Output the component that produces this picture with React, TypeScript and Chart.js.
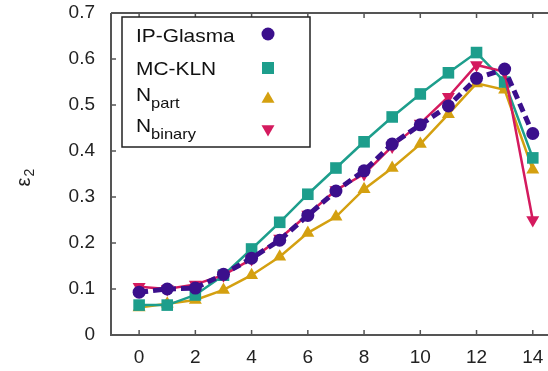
import React, { useEffect, useRef } from "react";
import { Chart, registerables } from "chart.js";

Chart.register(...registerables);

const xValues = [0, 1, 2, 3, 4, 5, 6, 7, 8, 9, 10, 11, 12, 13, 14];
const ipGlasma = [0.093, 0.1, 0.102, 0.132, 0.167, 0.206, 0.26, 0.313, 0.357, 0.415, 0.457, 0.498, 0.558, 0.578, 0.438];
const mcKln = [0.065, 0.065, 0.087, 0.13, 0.187, 0.245, 0.306, 0.363, 0.42, 0.474, 0.524, 0.57, 0.614, 0.55, 0.385];
const nPart = [0.06, 0.068, 0.076, 0.098, 0.13, 0.17, 0.222, 0.257, 0.317, 0.363, 0.415, 0.48, 0.547, 0.533, 0.359];
const nBinary = [0.105, 0.1, 0.11, 0.13, 0.165, 0.21, 0.262, 0.315, 0.35, 0.41, 0.46, 0.518, 0.587, 0.572, 0.25];
const xTicks = [0, 2, 4, 6, 8, 10, 12, 14];
const yTicks = [0, 0.1, 0.2, 0.3, 0.4, 0.5, 0.6, 0.7];

const PURPLE = "#3b0f8c";
const TEAL = "#1d9e8c";
const GOLD = "#d4a010";
const CRIMSON = "#d41a5e";
const AXIS = "#555555";
const FONT = "'Liberation Sans', Arial, sans-serif";

function stretchedText(ctx: CanvasRenderingContext2D, text: string, x: number, y: number, size: number, sx = 1.1) {
  ctx.save();
  ctx.translate(x, y);
  ctx.scale(sx, 1);
  ctx.font = `${size}px ${FONT}`;
  ctx.fillText(text, 0, 0);
  const w = ctx.measureText(text).width * sx;
  ctx.restore();
  return w;
}

function marker(ctx: CanvasRenderingContext2D, kind: string, x: number, y: number, color: string) {
  ctx.save();
  ctx.fillStyle = color;
  ctx.beginPath();
  const r = 7.5;
  const s = Math.sin((2 * Math.PI) / 3);
  if (kind === "circle") {
    ctx.arc(x, y, 6.5, 0, Math.PI * 2);
  } else if (kind === "rect") {
    ctx.rect(x - 6, y - 6, 12, 12);
  } else if (kind === "up") {
    ctx.moveTo(x, y - r);
    ctx.lineTo(x + r * s, y + r / 2);
    ctx.lineTo(x - r * s, y + r / 2);
  } else {
    ctx.moveTo(x, y + r);
    ctx.lineTo(x + r * s, y - r / 2);
    ctx.lineTo(x - r * s, y - r / 2);
  }
  ctx.closePath();
  ctx.fill();
  ctx.restore();
}

const framePlugin = {
  id: "frame",
  beforeDatasetsDraw(chart: any) {
    const { ctx, chartArea, scales } = chart;
    const { left, top, bottom } = chartArea;
    const right = chart.width;
    ctx.save();
    ctx.strokeStyle = AXIS;
    ctx.lineWidth = 2;
    ctx.beginPath();
    ctx.moveTo(left, top);
    ctx.lineTo(right, top);
    ctx.moveTo(left, top);
    ctx.lineTo(left, bottom);
    ctx.lineTo(right, bottom);
    ctx.stroke();
    ctx.lineWidth = 1.5;
    ctx.beginPath();
    for (const v of yTicks) {
      const y = scales.y.getPixelForValue(v);
      ctx.moveTo(left, y);
      ctx.lineTo(left + 5, y);
    }
    for (const v of xTicks) {
      const x = scales.x.getPixelForValue(v);
      ctx.moveTo(x, bottom);
      ctx.lineTo(x, bottom - 5);
      ctx.moveTo(x, top);
      ctx.lineTo(x, top + 5);
    }
    ctx.stroke();
    ctx.restore();
  },
  afterDraw(chart: any) {
    const { ctx } = chart;
    ctx.save();
    // y-axis title: epsilon_2 rotated
    ctx.translate(30, 178);
    ctx.rotate(-Math.PI / 2);
    ctx.fillStyle = "#222";
    ctx.textBaseline = "alphabetic";
    ctx.textAlign = "left";
    ctx.font = `20px ${FONT}`;
    const ew = ctx.measureText("ε").width;
    ctx.fillText("ε", -ew / 2 - 4, 0);
    ctx.font = `14px ${FONT}`;
    ctx.fillText("2", ew / 2 - 3, 4);
    ctx.restore();

    // legend box
    ctx.save();
    ctx.fillStyle = "#ffffff";
    ctx.fillRect(122, 17, 188, 130);
    ctx.strokeStyle = "#222";
    ctx.lineWidth = 1.5;
    ctx.strokeRect(122, 17, 188, 130);
    ctx.fillStyle = "#111";
    ctx.textBaseline = "alphabetic";
    ctx.textAlign = "left";
    stretchedText(ctx, "IP-Glasma", 136, 42, 19);
    stretchedText(ctx, "MC-KLN", 136, 75, 19);
    let w = stretchedText(ctx, "N", 136, 101, 19);
    stretchedText(ctx, "part", 136 + w, 108, 15);
    w = stretchedText(ctx, "N", 136, 132, 19);
    stretchedText(ctx, "binary", 136 + w, 139, 15);
    marker(ctx, "circle", 268, 34, PURPLE);
    marker(ctx, "rect", 268, 68, TEAL);
    marker(ctx, "up", 268, 99, GOLD);
    marker(ctx, "down", 268, 129, CRIMSON);
    ctx.restore();
  },
};

function pts(vals: number[]) {
  return xValues.map((x, i) => ({ x, y: vals[i] }));
}

export default function App() {
  const ref = useRef<HTMLCanvasElement>(null);
  useEffect(() => {
    if (!ref.current) return;
    const chart = new Chart(ref.current, {
      type: "line",
      data: {
        datasets: [
          {
            label: "IP-Glasma",
            data: pts(ipGlasma),
            borderColor: PURPLE,
            backgroundColor: PURPLE,
            borderWidth: 5,
            borderDash: [9, 5],
            pointStyle: "circle",
            pointRadius: 6.5,
            pointBorderWidth: 0,
            tension: 0,
            clip: false,
          },
          {
            label: "N_binary",
            data: pts(nBinary),
            borderColor: CRIMSON,
            backgroundColor: CRIMSON,
            borderWidth: 2.5,
            pointStyle: "triangle",
            rotation: 180,
            pointRadius: 7.5,
            pointBorderWidth: 0,
            tension: 0,
            clip: false,
          },
          {
            label: "MC-KLN",
            data: pts(mcKln),
            borderColor: TEAL,
            backgroundColor: TEAL,
            borderWidth: 2.5,
            pointStyle: "rect",
            pointRadius: 8.2,
            pointBorderWidth: 0,
            tension: 0,
            clip: false,
          },
          {
            label: "N_part",
            data: pts(nPart),
            borderColor: GOLD,
            backgroundColor: GOLD,
            borderWidth: 2.5,
            pointStyle: "triangle",
            pointRadius: 7.5,
            pointBorderWidth: 0,
            tension: 0,
            clip: false,
          },
        ],
      },
      options: {
        animation: false,
        responsive: false,
        events: [],
        layout: { padding: { top: 13, right: 0, left: 0, bottom: 0 } },
        plugins: { legend: { display: false }, tooltip: { enabled: false } },
        scales: {
          x: {
            type: "linear",
            min: -1,
            max: 14.25,
            grid: { display: false, drawTicks: false },
            border: { display: false },
            afterBuildTicks: (s: any) => {
              s.ticks = xTicks.map((v) => ({ value: v }));
            },
            afterFit: (s: any) => {
              s.height = 36;
              s.paddingLeft = 0;
              s.paddingRight = 0;
            },
            ticks: {
              padding: 11,
              color: "#222",
              font: { family: FONT, size: 19 },
              maxRotation: 0,
              autoSkip: false,
              callback: (v: any) => String(v),
            },
          },
          y: {
            type: "linear",
            min: 0,
            max: 0.7,
            grid: { display: false, drawTicks: false },
            border: { display: false },
            afterBuildTicks: (s: any) => {
              s.ticks = yTicks.map((v) => ({ value: v }));
            },
            afterFit: (s: any) => {
              s.width = 111;
              s.paddingTop = 0;
              s.paddingBottom = 0;
            },
            ticks: {
              padding: 16,
              color: "#222",
              font: { family: FONT, size: 19 },
              callback: (v: any) => String(Math.round(Number(v) * 10) / 10),
            },
          },
        },
      },
      plugins: [framePlugin],
    } as any);
    return () => chart.destroy();
  }, []);
  return (
    <div style={{ position: "fixed", left: 0, top: 0, width: 548, height: 371, background: "#fff" }}>
      <canvas ref={ref} width={548} height={371} style={{ display: "block" }} />
    </div>
  );
}
